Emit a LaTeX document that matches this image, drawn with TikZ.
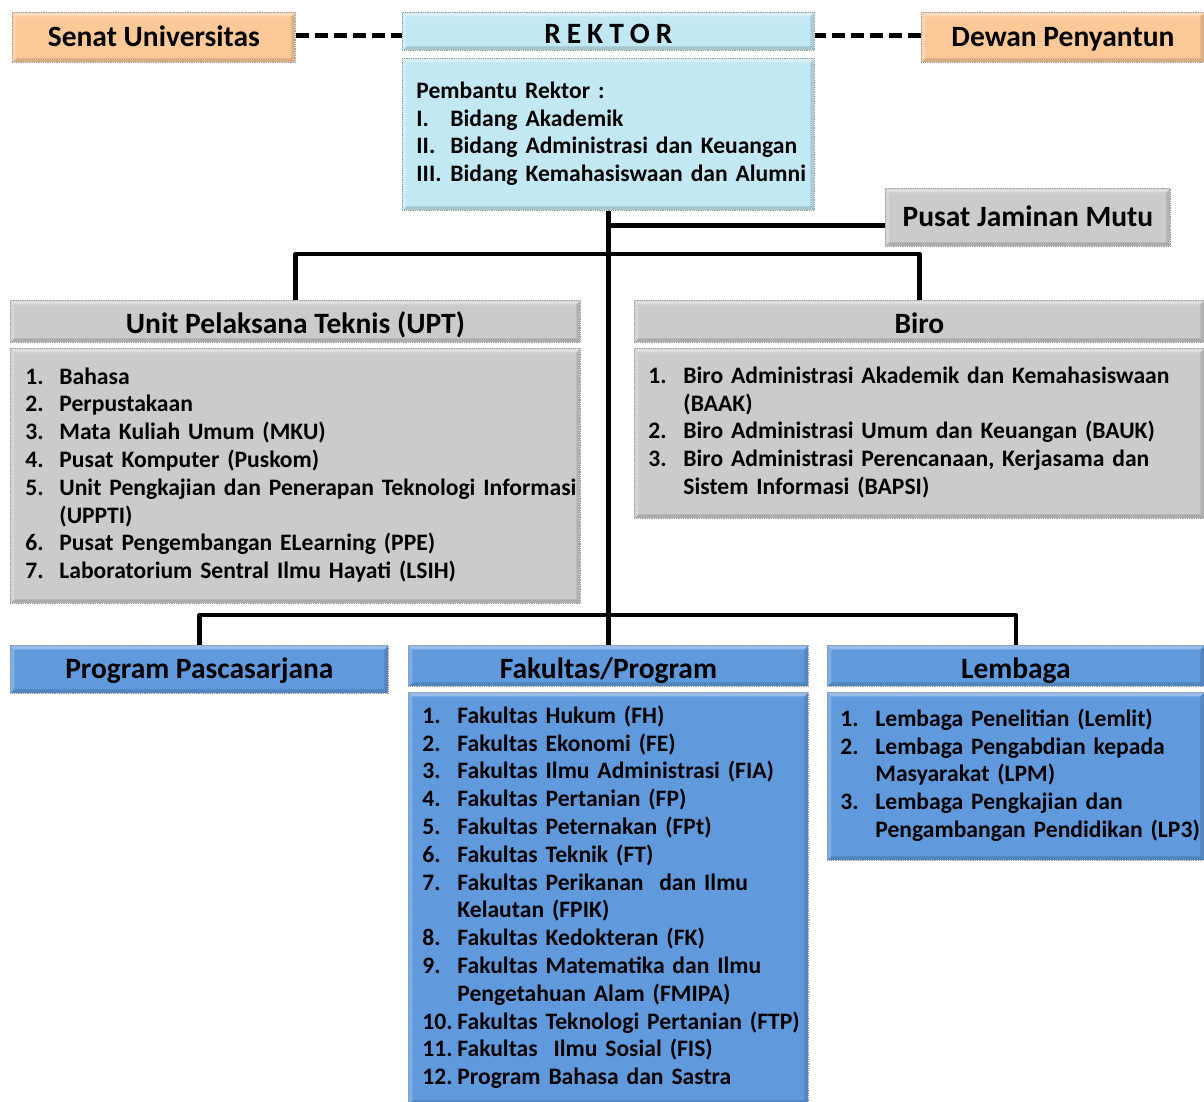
\documentclass[tikz,border=0pt]{standalone}
\usepackage{fontspec}
\setmainfont{Carlito}
\usetikzlibrary{positioning}
\definecolor{jingga}{RGB}{251,201,152}
\definecolor{birumuda}{RGB}{194,233,243}
\definecolor{abu}{RGB}{203,203,203}
\definecolor{biru}{RGB}{96,154,221}
\newcommand{\hurufbesar}{\fontsize{29.5}{34}\selectfont\bfseries}
\newcommand{\hurufkecil}{\fontsize{23.6}{27.8}\selectfont\bfseries}
\newcommand{\daftar}[2]{\begin{tabular}{@{}p{#1}@{}l@{}}#2\end{tabular}}

\begin{document}
\begin{tikzpicture}[x=1pt, y=-1pt, line join=round,
	timbul/.style={path picture={
		\fill[white, opacity=.35] (path picture bounding box.north west) -- (path picture bounding box.north east) -- ([xshift=-4pt, yshift=-4pt]path picture bounding box.north east) -- ([xshift=4pt, yshift=-4pt]path picture bounding box.north west) -- cycle;
		\fill[white, opacity=.2] (path picture bounding box.north west) -- (path picture bounding box.south west) -- ([xshift=4pt, yshift=4pt]path picture bounding box.south west) -- ([xshift=4pt, yshift=-4pt]path picture bounding box.north west) -- cycle;
		\fill[black, opacity=.15] (path picture bounding box.south west) -- (path picture bounding box.south east) -- ([xshift=-4pt, yshift=4pt]path picture bounding box.south east) -- ([xshift=4pt, yshift=4pt]path picture bounding box.south west) -- cycle;
		\fill[black, opacity=.12] (path picture bounding box.north east) -- (path picture bounding box.south east) -- ([xshift=-4pt, yshift=4pt]path picture bounding box.south east) -- ([xshift=-4pt, yshift=-4pt]path picture bounding box.north east) -- cycle;}},
	kotak/.style={rectangle, draw=black!40, densely dotted, line width=0.8pt, inner sep=0pt, anchor=north west, timbul, font=\hurufbesar, text height=19pt, text depth=0pt},
	judul/.style={kotak, text height=25pt},
	isi/.style={kotak, font=\hurufkecil, align=left, text height=, text depth=},
	garis/.style={line width=4.5pt},
	putus/.style={line width=4.5pt, dash pattern=on 13pt off 6pt}]
	\useasboundingbox (0,0) rectangle (1204,1102);
	% pimpinan
	\node[kotak, fill=jingga, minimum width=283, minimum height=50] (senat) at (12,12) {Senat Universitas};
	\node[judul, fill=birumuda, minimum width=412, minimum height=38] (rektor) at (402,12) {R\hspace{6pt}E\hspace{6pt}K\hspace{6pt}T\hspace{6pt}O\hspace{6pt}R};
	\node[kotak, fill=jingga, minimum width=283, minimum height=50] (dewan) at (921,12) {Dewan Penyantun};
	\node[isi, fill=birumuda, minimum width=412, minimum height=152, text width=384, inner xsep=14] (pembantu) at (402,58) {\daftar{34pt}{%
		\multicolumn{2}{@{}l@{}}{Pembantu Rektor :}\\
		I. & Bidang Akademik\\
		II. & Bidang Administrasi dan Keuangan\\
		III. & Bidang Kemahasiswaan dan Alumni}};
	\node[kotak, fill=abu, minimum width=285, minimum height=58] (pjm) at (885,188) {Pusat Jaminan Mutu};
	% UPT dan Biro
	\node[judul, fill=abu, minimum width=570, minimum height=42] (upt) at (10,300) {Unit Pelaksana Teknis (UPT)};
	\node[isi, fill=abu, minimum width=570, minimum height=255, text width=540, inner xsep=15] (uptisi) at (10,348) {\daftar{34pt}{%
		1. & Bahasa\\
		2. & Perpustakaan\\
		3. & Mata Kuliah Umum (MKU)\\
		4. & Pusat Komputer (Puskom)\\
		5. & Unit Pengkajian dan Penerapan Teknologi Informasi\\
		& (UPPTI)\\
		6. & Pusat Pengembangan ELearning (PPE)\\
		7. & Laboratorium Sentral Ilmu Hayati (LSIH)}};
	\node[judul, fill=abu, minimum width=570, minimum height=42] (biro) at (634,300) {Biro};
	\node[isi, fill=abu, minimum width=570, minimum height=170, text width=542, inner xsep=14] (biroisi) at (634,348) {\daftar{35pt}{%
		1. & Biro Administrasi Akademik dan Kemahasiswaan\\
		& (BAAK)\\
		2. & Biro Administrasi Umum dan Keuangan (BAUK)\\
		3. & Biro Administrasi Perencanaan, Kerjasama dan\\
		& Sistem Informasi (BAPSI)}};
	% fakultas dan lembaga
	\node[kotak, fill=biru, minimum width=378, minimum height=48] (pasca) at (10,645) {Program Pascasarjana};
	\node[judul, fill=biru, minimum width=400, minimum height=41] (fakultas) at (408,645) {Fakultas/Program};
	\node[isi, fill=biru, minimum width=400, minimum height=412, text width=372, inner xsep=14] (fakultasisi) at (408,692) {\daftar{35pt}{%
		1. & Fakultas Hukum (FH)\\
		2. & Fakultas Ekonomi (FE)\\
		3. & Fakultas Ilmu Administrasi (FIA)\\
		4. & Fakultas Pertanian (FP)\\
		5. & Fakultas Peternakan (FPt)\\
		6. & Fakultas Teknik (FT)\\
		7. & Fakultas Perikanan\ \ dan Ilmu\\
		& Kelautan (FPIK)\\
		8. & Fakultas Kedokteran (FK)\\
		9. & Fakultas Matematika dan Ilmu\\
		& Pengetahuan Alam (FMIPA)\\
		10. & Fakultas Teknologi Pertanian (FTP)\\
		11. & Fakultas\ \ Ilmu Sosial (FIS)\\
		12. & Program Bahasa dan Sastra}};
	\node[judul, fill=biru, minimum width=377, minimum height=41] (lembaga) at (827,645) {Lembaga};
	\node[isi, fill=biru, minimum width=377, minimum height=168, text width=351, inner xsep=13] (lembagaisi) at (827,692) {\daftar{35pt}{%
		1. & Lembaga Penelitian (Lemlit)\\
		2. & Lembaga Pengabdian kepada\\
		& Masyarakat (LPM)\\
		3. & Lembaga Pengkajian dan\\
		& Pengambangan Pendidikan (LP3)}};
	% garis
	\draw[putus] ([yshift=2pt]senat.east) -- ([yshift=2pt]senat.east -| rektor.west);
	\draw[putus] ([yshift=2pt]dewan.west) -- ([yshift=2pt]dewan.west -| rektor.east);
	\draw[garis] (pembantu.south) -- (fakultas.north);
	\draw[garis] ([yshift=-8pt]pjm.west) -- ([yshift=-8pt]pjm.west -| pembantu.south);
	\draw[garis] (upt.north) -- ++(0,-46) -| (biro.north);
	\draw[garis] (pasca.north) -- ++(0,-30) -| (lembaga.north);
\end{tikzpicture}
\end{document}
